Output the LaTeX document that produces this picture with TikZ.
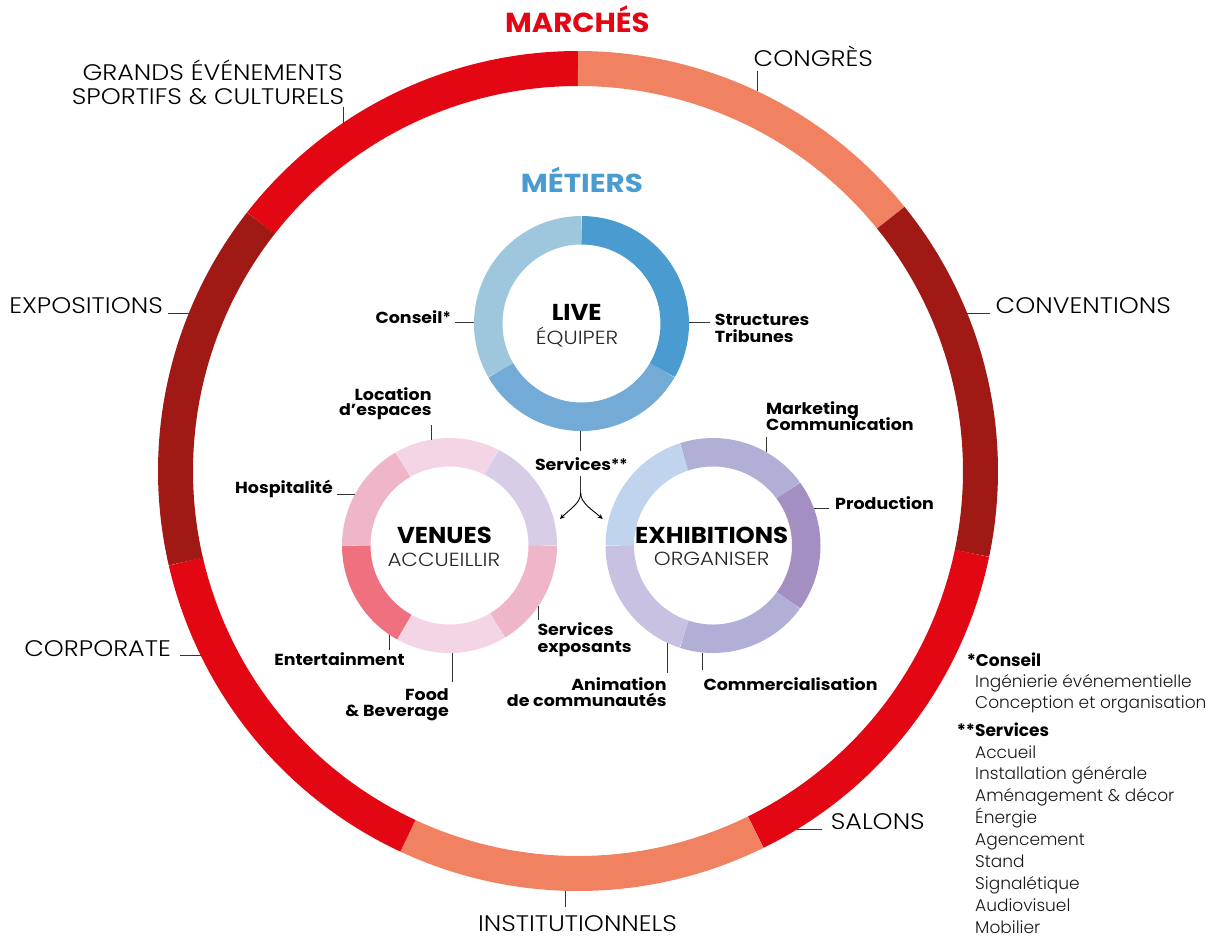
\documentclass[tikz,border=0pt]{standalone}
\usepackage{fontspec}
\setmainfont{Poppins}
\IfFontExistsTF{Poppins Light}{%
  \newfontfamily\lightf{Poppins Light}%
  \newfontfamily\lightw{Poppins Light}[FakeStretch=1.13]}{%
  \newfontfamily\lightf{Poppins}%
  \newfontfamily\lightw{Poppins}[FakeStretch=1.13]}
\newfontfamily\boldA{Poppins}[FakeStretch=1.09]
\newfontfamily\boldB{Poppins}[FakeStretch=1.06]
\newfontfamily\boldC{Poppins}[FakeStretch=1.13]
\usetikzlibrary{calc,arrows.meta}
\definecolor{cRed}{HTML}{E30613}
\definecolor{cSalmon}{HTML}{F08262}
\definecolor{cDark}{HTML}{A01915}
\definecolor{cBlueT}{HTML}{4A9BD0}
\definecolor{lvA}{HTML}{4A9BCF}
\definecolor{lvB}{HTML}{74AAD6}
\definecolor{lvC}{HTML}{9EC7DE}
\definecolor{vPinkL}{HTML}{F4D5E6}
\definecolor{vLav}{HTML}{D8CDE6}
\definecolor{vPink}{HTML}{EEB6C8}
\definecolor{vRed}{HTML}{EF717F}
\definecolor{eLB}{HTML}{C0D4EE}
\definecolor{eLav}{HTML}{B2AFD7}
\definecolor{ePur}{HTML}{A48FC3}
\definecolor{eLL}{HTML}{C8C1E1}
\newcommand\ringarc[6]{\draw[line width=#3,#6] ($(#1)+(#4:#2)$) arc[start angle=#4,end angle=#5,radius=#2];}
\tikzset{
  mk/.style={font=\lightw\fontsize{22.5}{24}\selectfont, inner sep=0pt, text=black},
  bigttl/.style={font=\boldB\bfseries\fontsize{27.5}{30}\selectfont, inner sep=0pt},
  midttl/.style={font=\boldC\bfseries\fontsize{26}{28}\selectfont, inner sep=0pt},
  ctr/.style={font=\boldB\bfseries\fontsize{23}{25}\selectfont, inner sep=0pt, text=black},
  sub/.style={font=\lightw\fontsize{19}{21}\selectfont, inner sep=0pt, text=black!85},
  ml/.style={font=\boldA\bfseries\fontsize{16}{18}\selectfont, inner sep=0pt, text=black},
  nb/.style={font=\bfseries\fontsize{17}{19}\selectfont, inner sep=0pt, text=black, anchor=base west},
  nt/.style={font=\lightf\fontsize{17}{19}\selectfont, inner sep=0pt, text=black!90, anchor=base west},
  leader/.style={draw=black!80, line width=0.9pt},
  arr/.style={draw=black, line width=0.9pt, -{Stealth[length=5pt,width=4.5pt]}}
}
\begin{document}
\begin{tikzpicture}[x=1pt,y=1pt]
\useasboundingbox (0,0) rectangle (1220,-938);
\coordinate (O) at (578,-471);
\coordinate (L) at (581.5,-323.5);
\coordinate (V) at (449.5,-545.5);
\coordinate (E) at (713,-545.5);

% outer ring (markets)
\ringarc{O}{402.5}{35pt}{142}{90}{cRed}
\ringarc{O}{402.5}{35pt}{90}{39}{cSalmon}
\ringarc{O}{402.5}{35pt}{39}{-11.8}{cDark}
\ringarc{O}{402.5}{35pt}{-11.8}{-63.8}{cRed}
\ringarc{O}{402.5}{35pt}{-63.8}{-115}{cSalmon}
\ringarc{O}{402.5}{35pt}{-115}{-167}{cRed}
\ringarc{O}{402.5}{35pt}{-167}{-218}{cDark}

% LIVE ring
\ringarc{L}{93.25}{28.5pt}{90}{-30}{lvA}
\ringarc{L}{93.25}{28.5pt}{-30}{-150}{lvB}
\ringarc{L}{93.25}{28.5pt}{-150}{-270}{lvC}

% VENUES ring
\ringarc{V}{93.25}{28.5pt}{120}{63}{vPinkL}
\ringarc{V}{93.25}{28.5pt}{63}{0}{vLav}
\ringarc{V}{93.25}{28.5pt}{0}{-59}{vPink}
\ringarc{V}{93.25}{28.5pt}{-59}{-119}{vPinkL}
\ringarc{V}{93.25}{28.5pt}{-119}{-180}{vRed}
\ringarc{V}{93.25}{28.5pt}{180}{120}{vPink}

% EXHIBITIONS ring
\ringarc{E}{93.25}{28.5pt}{180}{108}{eLB}
\ringarc{E}{93.25}{28.5pt}{108}{36}{eLav}
\ringarc{E}{93.25}{28.5pt}{36}{-36}{ePur}
\ringarc{E}{93.25}{28.5pt}{-36}{-108}{eLav}
\ringarc{E}{93.25}{28.5pt}{-108}{-180}{eLL}

% titles
\node[bigttl, text=cRed, anchor=base] (tMar) at (577.4,-32.3) {MARCHÉS};
\node[midttl, text=cBlueT, anchor=base] (tMet) at (581.9,-192.7) {MÉTIERS};

% market labels
\node[mk, anchor=base west] (mCong) at (753.5,-66) {CONGRÈS};
\node[mk, anchor=base west] (mConv) at (995.5,-313.3) {CONVENTIONS};
\node[mk, anchor=base east] (mExpo) at (163,-313.3) {EXPOSITIONS};
\node[mk, anchor=base east] (mGr1) at (343,-80) {GRANDS ÉVÉNEMENTS};
\node[mk, anchor=base east] (mGr2) at (344.4,-104) {SPORTIFS \& CULTURELS};
\node[mk, anchor=base east] (mCorp) at (171,-656.7) {CORPORATE};
\node[mk, anchor=base] (mInst) at (577.5,-931) {INSTITUTIONNELS};
\node[mk, anchor=base west] (mSal) at (830.7,-829.3) {SALONS};

% market leaders
\coordinate (kC1) at (757,-70.7);   \coordinate (kC2) at (757,-91.1);
\coordinate (kV1) at (990,-313.3);  \coordinate (kV2) at (967.3,-313.3);
\coordinate (kE1) at (168,-313.3);  \coordinate (kE2) at (188.7,-313.3);
\coordinate (kG1) at (343,-107);    \coordinate (kG2) at (343,-122.9);
\coordinate (kP1) at (180,-655.7);  \coordinate (kP2) at (200.8,-655.7);
\coordinate (kI1) at (565.7,-906.7);\coordinate (kI2) at (565.7,-890.8);
\coordinate (kS1) at (821.7,-829.3);\coordinate (kS2) at (797.1,-829.3);
\foreach \a/\b in {kC1/kC2,kV1/kV2,kE1/kE2,kG1/kG2,kP1/kP2,kI1/kI2,kS1/kS2}
  \draw[leader] (\a) -- (\b);

% centre texts
\node[ctr, anchor=base] (cLive) at (576.7,-320.7) {LIVE};
\node[sub, anchor=base] (sLive) at (577,-344) {ÉQUIPER};
\node[ctr, anchor=base] (cVen) at (444.5,-543.3) {VENUES};
\node[sub, anchor=base] (sVen) at (443.8,-566.7) {ACCUEILLIR};
\node[ctr, anchor=base] (cExh) at (711.7,-543.3) {EXHIBITIONS};
\node[sub, anchor=base] (sExh) at (711.7,-565.7) {ORGANISER};

% LIVE labels
\node[ml, anchor=base east] (lCons) at (451,-323) {Conseil{\lightf *}};
\node[ml, anchor=base west] (lStr1) at (714.7,-325) {Structures};
\node[ml, anchor=base west] (lStr2) at (714.7,-342) {Tribunes};
\node[ml, anchor=base] (lServ) at (581.3,-470) {Services{\lightf **}};

% VENUES labels
\node[ml, anchor=base east] (lLoc1) at (431.7,-400) {Location};
\node[ml, anchor=base east] (lLoc2) at (431.7,-415.7) {d’espaces};
\node[ml, anchor=base east] (lHosp) at (333,-493) {Hospitalité};
\node[ml, anchor=base east] (lEnt) at (405,-665.7) {Entertainment};
\node[ml, anchor=base east] (lFood1) at (449,-700) {Food};
\node[ml, anchor=base east] (lFood2) at (449,-716) {\& Beverage};
\node[ml, anchor=base west] (lSe1) at (537.3,-635.7) {Services};
\node[ml, anchor=base west] (lSe2) at (537.3,-652.7) {exposants};

% EXHIBITIONS labels
\node[ml, anchor=base west] (lMk1) at (766,-414) {Marketing};
\node[ml, anchor=base west] (lMk2) at (766,-430.7) {Communication};
\node[ml, anchor=base west] (lProd) at (835,-509.3) {Production};
\node[ml, anchor=base west] (lCom) at (703.3,-690) {Commercialisation};
\node[ml, anchor=base east] (lAn1) at (666.7,-690) {Animation};
\node[ml, anchor=base east] (lAn2) at (666.7,-706.7) {de communautés};

% metier leaders
\coordinate (jA1) at (455,-322.7);  \coordinate (jA2) at (474,-322.7);
\coordinate (jB1) at (710,-322.7);  \coordinate (jB2) at (689,-322.7);
\coordinate (jC1) at (580.7,-431);  \coordinate (jC2) at (580.7,-451);
\coordinate (jD1) at (431.7,-425);  \coordinate (jD2) at (431.7,-439.5);
\coordinate (jE1) at (337,-494.3);  \coordinate (jE2) at (355,-494.3);
\coordinate (jF1) at (389.3,-634.6);\coordinate (jF2) at (389.3,-650);
\coordinate (jG1) at (452.3,-653);  \coordinate (jG2) at (452.3,-681.7);
\coordinate (jH1) at (538.3,-606.1);\coordinate (jH2) at (538.3,-620);
\coordinate (jI1) at (766,-436.7);  \coordinate (jI2) at (766,-452);
\coordinate (jJ1) at (813.9,-508.3);\coordinate (jJ2) at (829.3,-508.3);
\coordinate (jK1) at (702.7,-652.5);\coordinate (jK2) at (702.7,-670);
\coordinate (jL1) at (667.3,-642.8);\coordinate (jL2) at (667.3,-673);
\foreach \a/\b in {jA1/jA2,jB1/jB2,jC1/jC2,jD1/jD2,jE1/jE2,jF1/jF2,jG1/jG2,jH1/jH2,jI1/jI2,jJ1/jJ2,jK1/jK2,jL1/jL2}
  \draw[leader] (\a) -- (\b);

% services split arrows
\coordinate (s1) at (580.7,-476);
\coordinate (s2) at (580.7,-493);
\coordinate (sL) at (560,-519);
\coordinate (sR) at (602.7,-519);
\draw[leader] (s1) -- (s2);
\draw[arr] (s2) .. controls (580.7,-503) and (570,-509) .. (sL);
\draw[arr] (s2) .. controls (580.7,-503) and (591.4,-509) .. (sR);

% footnotes
\node[nb] (n1) at (966.7,-666.7) {*Conseil};
\node[nt] (n1a) at (975,-687) {Ingénierie événementielle};
\node[nt] (n1b) at (975,-708.5) {Conception et organisation};
\node[nb] (n2) at (956.7,-736.7) {**Services};
\node[nt] (n2a) at (975,-758.3) {Accueil};
\node[nt] (n2b) at (975,-779.5) {Installation générale};
\node[nt] (n2c) at (975,-801.5) {Aménagement \& décor};
\node[nt] (n2d) at (975,-823.3) {Énergie};
\node[nt] (n2e) at (975,-845) {Agencement};
\node[nt] (n2f) at (975,-867.5) {Stand};
\node[nt] (n2g) at (975,-889.5) {Signalétique};
\node[nt] (n2h) at (975,-911.5) {Audiovisuel};
\node[nt] (n2i) at (975,-933.3) {Mobilier};
\end{tikzpicture}
\end{document}
